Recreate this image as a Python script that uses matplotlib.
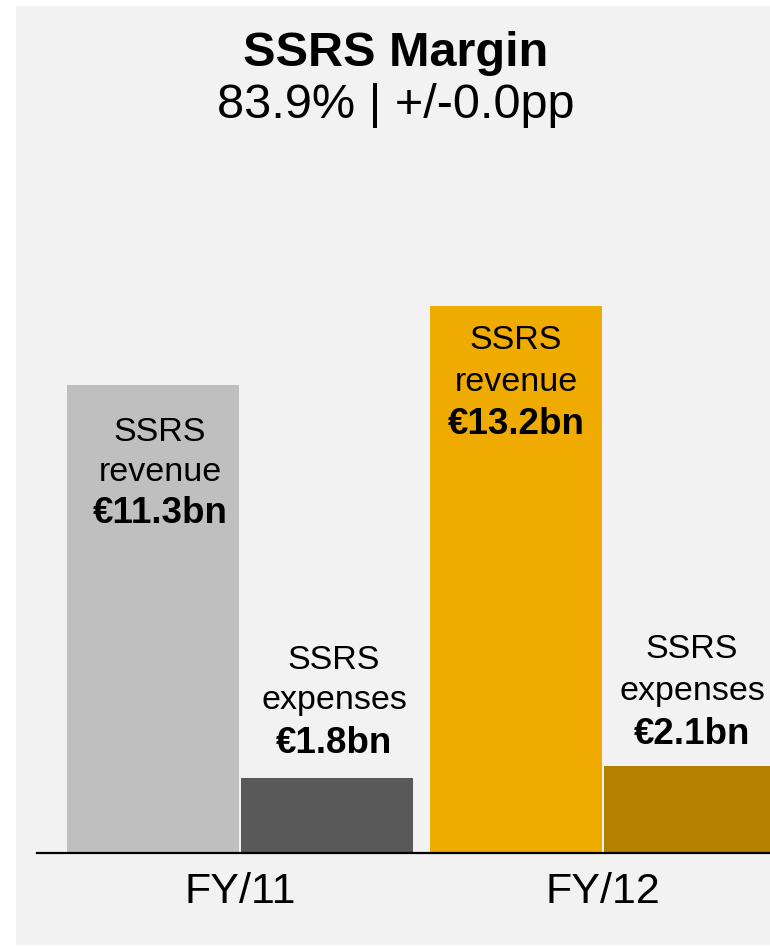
import matplotlib
matplotlib.use("Agg")
import matplotlib.pyplot as plt
from matplotlib.patches import Rectangle

plt.rcParams['font.family'] = ['Liberation Sans', 'DejaVu Sans']

# ---- data ----
periods = ["FY/11", "FY/12"]
revenue = [11.3, 13.2]
expenses = [1.8, 2.1]
revenue_labels = ["€11.3bn", "€13.2bn"]
expense_labels = ["€1.8bn", "€2.1bn"]
title = "SSRS Margin"
subtitle = "83.9% | +/-0.0pp"

rev_colors = ["#bfbfbf", "#f0ab00"]
exp_colors = ["#595959", "#b38000"]

W, H = 770, 946
fig = plt.figure(figsize=(W / 100, H / 100), dpi=100)
fig.patch.set_facecolor("white")
fig.patches.append(Rectangle((16 / W, 1 - 945 / H), (770 - 16) / W, (945 - 6) / H,
                             transform=fig.transFigure, facecolor="#f2f2f2",
                             edgecolor="none", zorder=-5))

# axes: x from 37 to 770 px, baseline at y=853 px
ax_left, ax_right = 37, 770
ax_bottom, ax_top = 853, 200
ax = fig.add_axes([ax_left / W, 1 - ax_bottom / H, (ax_right - ax_left) / W,
                   (ax_bottom - ax_top) / H])
ax.set_facecolor("none")
ax.set_zorder(1)

px_per_unit = 363.0
bw = 172 / px_per_unit
gap = 2 / px_per_unit
group_x = [0, 1]
ax.set_xlim((ax_left - 240) / px_per_unit, (ax_right - 240) / px_per_unit)
ax.set_ylim(0, (ax_bottom - ax_top) / 41.45)

rev_x = [g - bw / 2 - gap / 2 for g in group_x]
exp_x = [g + bw / 2 + gap / 2 for g in group_x]
ax.bar(rev_x, revenue, width=bw, color=rev_colors, zorder=2)
ax.bar(exp_x, expenses, width=bw, color=exp_colors, zorder=2)

fs = 24.5
fs_bold = 26.5
# revenue labels (inside bar, below top)
rev_off = [[48, 88, 129], [35, 77, 119]]
rev_dx = [7, 0]
for i in range(2):
    lines = ["SSRS", "revenue", revenue_labels[i]]
    for j, t in enumerate(lines):
        ax.annotate(t, xy=(rev_x[i], revenue[i]), xytext=(rev_dx[i], -rev_off[i][j]),
                    textcoords="offset pixels", ha="center", va="center",
                    fontsize=fs_bold if j == 2 else fs,
                    fontweight="bold" if j == 2 else "normal",
                    color="black", zorder=3)
# expense labels (above bar)
exp_off = [[118, 78, 35], [116, 74, 31]]
exp_dx = [7, 2]
for i in range(2):
    lines = ["SSRS", "expenses", expense_labels[i]]
    for j, t in enumerate(lines):
        ax.annotate(t, xy=(exp_x[i], expenses[i]), xytext=(exp_dx[i], exp_off[i][j]),
                    textcoords="offset pixels", ha="center", va="center",
                    fontsize=fs_bold if j == 2 else fs,
                    fontweight="bold" if j == 2 else "normal",
                    color="black", zorder=3, annotation_clip=False)

for s in ["top", "right", "left"]:
    ax.spines[s].set_visible(False)
ax.spines["bottom"].set_linewidth(1.6)
ax.spines["bottom"].set_color("black")
ax.spines["bottom"].set_zorder(4)
ax.set_yticks([])
ax.set_xticks(group_x)
ax.set_xticklabels(periods, fontsize=31)
ax.tick_params(axis="x", length=0, pad=14)

fig.text(396 / W, 1 - 53 / H, title, ha="center", va="center", fontsize=35,
         fontweight="bold")
fig.text(396 / W, 1 - 105 / H, subtitle, ha="center", va="center", fontsize=35)

fig.savefig("out.png", dpi=100, facecolor=fig.get_facecolor())
